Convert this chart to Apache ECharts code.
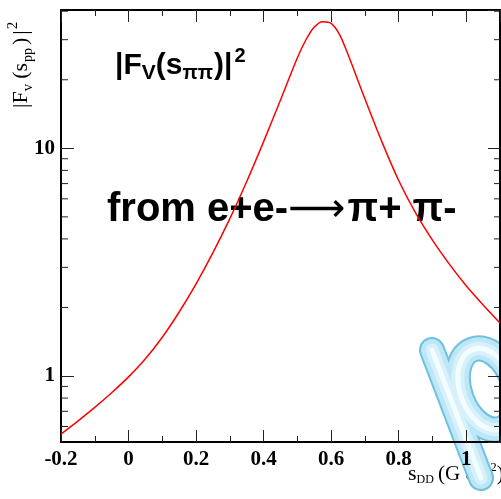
<!DOCTYPE html>
<html>
<head>
<meta charset="utf-8">
<script src="https://cdn.jsdelivr.net/npm/echarts@6/dist/echarts.min.js"></script>
<style>
  html, body { margin: 0; padding: 0; background: #fff; }
  #chart { width: 501px; height: 499px; }
</style>
</head>
<body>
<div id="chart"></div>
<script>
// Pion vector form factor squared, |F_V(s)|^2, versus s (GeV^2)
const sValues = [-0.2, -0.15, -0.1, -0.05, 0.0, 0.05, 0.1, 0.15, 0.2, 0.25, 0.3, 0.35, 0.4, 0.45,
                 0.5, 0.525, 0.55, 0.575, 0.6, 0.625, 0.65, 0.7, 0.75, 0.8, 0.85, 0.9, 0.95, 1.0, 1.05, 1.1];
const formFactorSq = [0.556, 0.634, 0.728, 0.844, 0.991, 1.19, 1.48, 1.91, 2.54, 3.48, 4.91, 7.15, 10.7, 16.3,
                      25.0, 29.9, 34.1, 36.0, 35.4, 31.6, 25.8, 16.5, 10.7, 7.22, 5.2, 3.95, 3.10, 2.49, 2.05, 1.71];

const xRange = [-0.2, 1.1];
const yRange = [0.513, 40.5];
const xMajorStep = 0.2;
const xMinorStep = 0.1;
const yMinorTicks = [0.6, 0.7, 0.8, 0.9, 2, 3, 4, 5, 6, 7, 8, 9, 20, 30, 40];

const SERIF = '"Liberation Serif", "Times New Roman", serif';
const SANS = '"Liberation Sans", Arial, Helvetica, sans-serif';
const ARROW_FONT = '"DejaVu Sans", sans-serif';
const TICK_COLOR = '#222';

// Lay out a line of text fragments (with sub/superscripts) left to right from a baseline.
const measureCtx = document.createElement('canvas').getContext('2d');
function textRun(x0, baseline, parts, opts) {
  opts = opts || {};
  let x = 0;
  const children = [];
  parts.forEach(function (p) {
    const font = (p.style || '') + ' ' + (p.weight || 'normal') + ' ' + p.size + 'px ' + p.family;
    measureCtx.font = font;
    const w = measureCtx.measureText(p.text).width;
    x += (p.pre || 0);
    children.push({
      type: 'text',
      x: x,
      y: (p.dy || 0) - 0.31 * p.size,
      style: { text: p.text, font: font, fill: '#000', align: 'left', verticalAlign: 'middle' }
    });
    x += w + (p.gap || 0);
  });
  return {
    type: 'group',
    x: x0,
    y: baseline,
    rotation: opts.rotation || 0,
    z: 50,
    children: children
  };
}

const chart = echarts.init(document.getElementById('chart'), null, { renderer: 'canvas' });

const titleFv = textRun(115, 75, [
  { text: '|F', size: 30, weight: 'bold', family: SANS },
  { text: 'V', size: 21, weight: 'bold', family: SANS, dy: 5 },
  { text: '(s', size: 30, weight: 'bold', family: SANS },
  { text: 'ππ', size: 20, weight: 'bold', family: SANS, dy: 5, gap: 1 },
  { text: ')|', size: 30, weight: 'bold', family: SANS, gap: 2 },
  { text: '2', size: 20, weight: 'bold', family: SANS, dy: -12 }
]);

const titleProcess = textRun(107, 222, [
  { text: 'from e+e-', size: 40, weight: 'bold', family: SANS },
  { text: '⟶', size: 40, family: ARROW_FONT, dy: 1, gap: 2 },
  { text: 'π+ π-', size: 40, weight: 'bold', family: SANS }
]);

const yTitle = textRun(28, 108, [
  { text: '|F', size: 22, family: SERIF },
  { text: 'v', size: 15, family: SERIF, dy: 5, gap: 5 },
  { text: '(s', size: 22, family: SERIF, gap: 1 },
  { text: 'pp', size: 14, family: SERIF, dy: 5, gap: 3 },
  { text: ')', size: 22, family: SERIF, gap: 3 },
  { text: '|', size: 22, family: SERIF, gap: 1 },
  { text: '2', size: 15, family: SERIF, dy: -10 }
], { rotation: Math.PI / 2 });

const xTitle = textRun(408, 481, [
  { text: 's', size: 22, family: SERIF },
  { text: 'DD', size: 12, family: SERIF, dy: 3, gap: 4 },
  { text: '(G e v', size: 21, family: SERIF },
  { text: '2', size: 13, family: SERIF, dy: -9 },
  { text: ')', size: 21, family: SERIF }
]);

// Glossy tube-like "p" emblem in the lower right corner
function emblemLayer(width, color) {
  return [
    { type: 'line', shape: { x1: 432, y1: 350, x2: 481, y2: 478 },
      style: { stroke: color, lineWidth: width, lineCap: 'round', fill: null } },
    { type: 'ellipse', shape: { cx: 487, cy: 389, rx: 27, ry: 42 },
      rotation: 0.35, originX: 487, originY: 389,
      style: { stroke: color, lineWidth: width, fill: null } }
  ];
}
const emblem = {
  type: 'group',
  z: 100,
  silent: true,
  children: [].concat(
    emblemLayer(26, '#6fc1df'),
    emblemLayer(22, '#bde7f6'),
    emblemLayer(13, '#d7f1fb'),
    emblemLayer(5, '#f3fcff')
  )
};

function axisTickStyle(len) {
  return { show: true, inside: true, length: len, lineStyle: { color: TICK_COLOR, width: 1 } };
}

const option = {
  animation: false,
  backgroundColor: '#fff',
  grid: { left: 61, right: 1, top: 10, bottom: 57, containLabel: false },
  xAxis: [
    {
      type: 'value', position: 'bottom', min: xRange[0], max: xRange[1], interval: xMajorStep,
      axisLine: { show: true, onZero: false, lineStyle: { color: '#000', width: 2 } },
      axisTick: axisTickStyle(12),
      axisLabel: { show: true, showMaxLabel: false, fontFamily: SERIF, fontSize: 21, fontWeight: 'bold',
                   color: '#000', margin: 7 },
      splitLine: { show: false }
    },
    {
      type: 'value', position: 'bottom', min: xRange[0], max: xRange[1], interval: xMinorStep,
      axisLine: { show: false, onZero: false }, axisTick: axisTickStyle(6),
      axisLabel: { show: false }, splitLine: { show: false }
    },
    {
      type: 'value', position: 'top', min: xRange[0], max: xRange[1], interval: xMajorStep,
      axisLine: { show: true, onZero: false, lineStyle: { color: '#000', width: 2 } },
      axisTick: axisTickStyle(12), axisLabel: { show: false }, splitLine: { show: false }
    },
    {
      type: 'value', position: 'top', min: xRange[0], max: xRange[1], interval: xMinorStep,
      axisLine: { show: false, onZero: false }, axisTick: axisTickStyle(6),
      axisLabel: { show: false }, splitLine: { show: false }
    }
  ],
  yAxis: [
    {
      type: 'log', logBase: 10, position: 'left', min: yRange[0], max: yRange[1],
      axisLine: { show: true, onZero: false, lineStyle: { color: '#000', width: 2 } },
      axisTick: axisTickStyle(13),
      axisLabel: { show: true, showMinLabel: false, showMaxLabel: false, fontFamily: SERIF, fontSize: 21,
                   fontWeight: 'bold', color: '#000', margin: 6 },
      splitLine: { show: false }
    },
    {
      type: 'log', logBase: 10, position: 'right', min: yRange[0], max: yRange[1],
      axisLine: { show: true, onZero: false, lineStyle: { color: '#000', width: 2 } },
      axisTick: axisTickStyle(12),
      axisLabel: { show: false }, splitLine: { show: false }
    }
  ],
  series: [
    {
      type: 'line',
      xAxisIndex: 0, yAxisIndex: 0,
      data: sValues.map(function (s, i) { return [s, formFactorSq[i]]; }),
      smooth: 0.3,
      showSymbol: false,
      clip: true,
      lineStyle: { color: '#ff0000', width: 1.5 },
      z: 5
    },
    {
      // minor ticks of the logarithmic axis on both frame sides
      type: 'custom',
      xAxisIndex: 0, yAxisIndex: 0,
      data: yMinorTicks.map(function (v) { return [xRange[0], v]; }),
      encode: { x: 0, y: 1 },
      silent: true,
      clip: false,
      renderItem: function (params, api) {
        const v = api.value(1);
        const L = api.coord([xRange[0], v]);
        const R = api.coord([xRange[1], v]);
        return {
          type: 'group',
          children: [
            { type: 'line', shape: { x1: L[0], y1: L[1], x2: L[0] + 7, y2: L[1] },
              style: { stroke: TICK_COLOR, lineWidth: 1 } },
            { type: 'line', shape: { x1: R[0] - 6, y1: R[1], x2: R[0], y2: R[1] },
              style: { stroke: TICK_COLOR, lineWidth: 1 } }
          ]
        };
      }
    }
  ],
  graphic: [titleFv, titleProcess, yTitle, xTitle, emblem]
};

chart.setOption(option);
</script>
</body>
</html>
